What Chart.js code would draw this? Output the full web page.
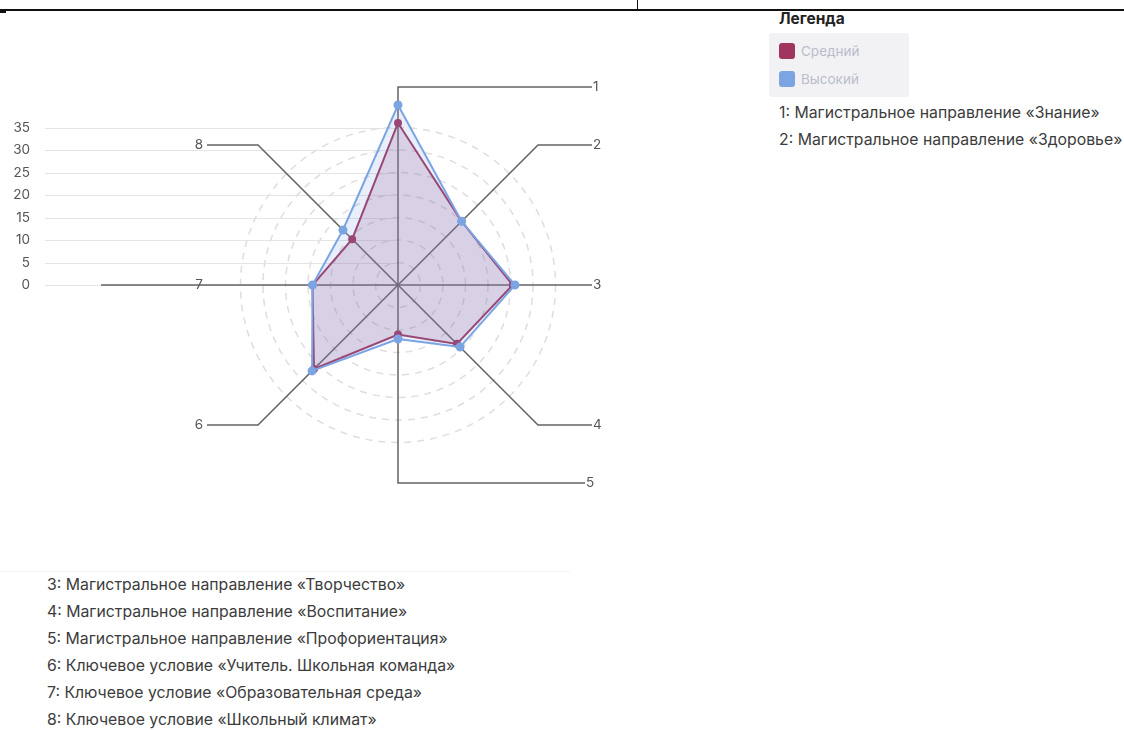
<!DOCTYPE html>
<html lang="ru">
<head>
<meta charset="utf-8">
<script src="https://cdn.jsdelivr.net/npm/chart.js@4.4.1/dist/chart.umd.min.js"></script>
<style>
  body { margin: 0; background: #fff; font-family: Inter, "Noto Sans", sans-serif; }
  #page { position: relative; width: 1124px; height: 730px; overflow: hidden; }
  #radar { position: absolute; left: 0; top: 0; }
  .rule-h { position: absolute; left: 0; top: 9px; width: 1124px; height: 2px; background: #111; }
  .rule-v { position: absolute; left: 637px; top: 0; width: 1px; height: 10px; background: #111; }
  .rule-mark { position: absolute; left: 0; top: 10px; width: 6px; height: 3px; background: #111; }
  .sep { position: absolute; left: 0; top: 571px; width: 570px; height: 1px; background: #f4f4f4; }
  #legendTitle { position: absolute; left: 779px; top: 9px; font-size: 15.5px; font-weight: 700; color: #222; }
  #legendBox { position: absolute; left: 769px; top: 33px; width: 140px; height: 64px; background: #f2f2f4; border-radius: 3px; }
  .item { position: absolute; left: 10px; height: 16px; font-size: 13.5px; color: #b9bdcb; line-height: 16px; }
  .item i { display: inline-block; width: 16px; height: 16px; border-radius: 3px; vertical-align: top; margin-right: 6px; }
  .names { position: absolute; color: #3c3c3c; line-height: 27px; white-space: nowrap; font-size: 15.8px; }
</style>
</head>
<body>
<div id="page">
  <div class="rule-h"></div>
  <div class="rule-v"></div>
  <div class="rule-mark"></div>
  <div class="sep"></div>
  <canvas id="radar" width="640" height="570"></canvas>
  <div id="legendTitle">Легенда</div>
  <div id="legendBox"></div>
  <div class="names" id="namesRight" style="left:779px; top:99px;"></div>
  <div class="names" id="namesBottom" style="left:47px; top:571px;"></div>
</div>
<script>
const axisNumbers = ['1', '2', '3', '4', '5', '6', '7', '8'];
const axisNames = [
  'Магистральное направление «Знание»',
  'Магистральное направление «Здоровье»',
  'Магистральное направление «Творчество»',
  'Магистральное направление «Воспитание»',
  'Магистральное направление «Профориентация»',
  'Ключевое условие «Учитель. Школьная команда»',
  'Ключевое условие «Образовательная среда»',
  'Ключевое условие «Школьный климат»'
];
const seriesNames = ['Средний', 'Высокий'];
const sredniy = [36, 20, 25.5, 18.5, 11, 26.4, 19, 14.4];
const vysokiy = [40, 20, 26, 19.5, 12, 27, 19, 17.3];
const tickMax = 35;   // last labelled tick on the left axis
const scaleMax = 44;  // where the leader lines bend

const red = '#a0365f';
const blue = '#7ba4e3';

// html legend
const box = document.getElementById('legendBox');
[red, blue].forEach((c, i) => {
  const d = document.createElement('div');
  d.className = 'item';
  d.style.top = (10 + i * 28) + 'px';
  d.innerHTML = `<i style="background:${c}"></i>${seriesNames[i]}`;
  box.appendChild(d);
});
document.getElementById('namesRight').innerHTML =
  axisNames.slice(0, 2).map((n, i) => `${axisNumbers[i]}: ${n}`).join('<br>');
document.getElementById('namesBottom').innerHTML =
  axisNames.slice(2).map((n, i) => `${axisNumbers[i + 2]}: ${n}`).join('<br>');

// left value axis + spokes bent into leader lines with numbers
const extras = {
  id: 'extras',
  beforeDatasetsDraw(chart) {
    const r = chart.scales.r;
    const c = chart.ctx;
    const cx = r.xCenter, cy = r.yCenter, R = r.drawingArea;
    c.save();
    c.font = '13.5px Inter, sans-serif';
    c.textBaseline = 'middle';
    // horizontal grid + tick labels
    r.ticks.filter(t => t.value <= tickMax).forEach(t => {
      const y = cy - r.getDistanceFromCenterForValue(t.value);
      c.strokeStyle = '#e4e4e4';
      c.lineWidth = 1;
      c.beginPath();
      c.moveTo(45, Math.round(y) + 0.5);
      c.lineTo(cx, Math.round(y) + 0.5);
      c.stroke();
      c.fillStyle = '#555';
      c.textAlign = 'right';
      c.fillText(String(t.value), 30, y);
    });
    // spokes + leaders
    c.strokeStyle = '#636363';
    c.lineWidth = 1.5;
    axisNumbers.forEach((lab, i) => {
      let p = r.getPointPosition(i, R);
      const right = p.x >= cx - 1;
      let endX = right ? cx + R - 4 : cx - R + 7;
      if (Math.abs(p.x - cx) < 1 && p.y > cy) endX = cx + R - 11;
      let lineEnd = endX;
      if (Math.abs(p.y - cy) < 1) {
        if (!right) lineEnd = cx - R * 1.5;
        p = { x: lineEnd, y: p.y };
      }
      c.beginPath();
      c.moveTo(cx, cy);
      c.lineTo(p.x, p.y);
      c.lineTo(lineEnd, p.y);
      c.stroke();
      c.fillStyle = '#555';
      c.textAlign = right ? 'left' : 'right';
      c.fillText(lab, right ? endX + 1 : endX - 4, p.y);
    });
    c.restore();
  }
};

new Chart(document.getElementById('radar'), {
  type: 'radar',
  data: {
    labels: axisNumbers,
    datasets: [{
      label: seriesNames[0],
      data: sredniy,
      borderColor: red,
      backgroundColor: 'rgba(160, 70, 120, 0.2)',
      pointBackgroundColor: red,
      pointBorderColor: red,
      pointRadius: 3,
      borderWidth: 2,
      order: 2
    }, {
      label: seriesNames[1],
      data: vysokiy,
      borderColor: blue,
      backgroundColor: 'rgba(120, 160, 230, 0.17)',
      pointBackgroundColor: blue,
      pointBorderColor: blue,
      pointRadius: 3.5,
      borderWidth: 2,
      order: 1
    }]
  },
  options: {
    responsive: false,
    animation: false,
    layout: { padding: { left: 200, top: 87, right: 44, bottom: 87 } },
    plugins: { legend: { display: false }, tooltip: { enabled: false } },
    scales: {
      r: {
        min: 0,
        max: scaleMax,
        ticks: { stepSize: 5, display: false },
        pointLabels: { display: false },
        angleLines: { display: false },
        grid: {
          circular: true,
          lineWidth: 1.5,
          color: ctx => (ctx.tick && ctx.tick.value <= tickMax) ? '#dedede' : 'rgba(0,0,0,0)'
        },
        border: { dash: [7, 6] }
      }
    }
  },
  plugins: [extras]
});
</script>
</body>
</html>
